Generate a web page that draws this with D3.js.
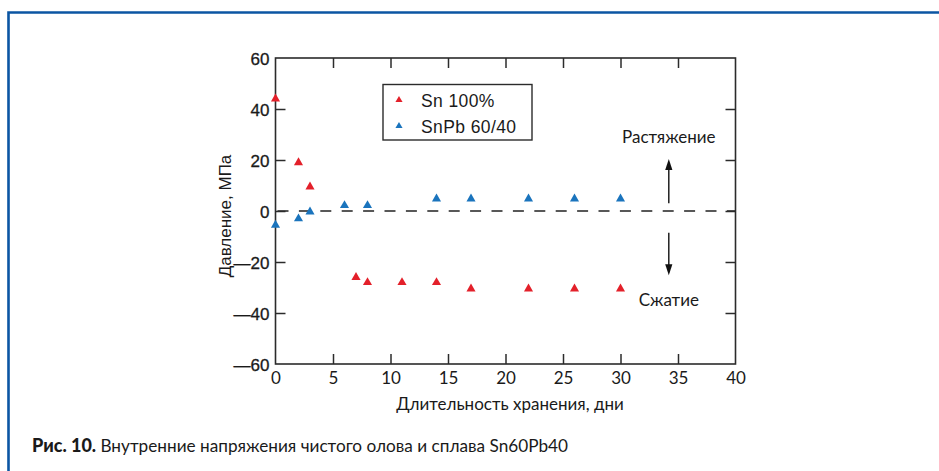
<!DOCTYPE html>
<html>
<head>
<meta charset="utf-8">
<script src="https://cdn.jsdelivr.net/npm/d3@7"></script>
<style>
  html, body { margin: 0; padding: 0; background: #fff; }
  svg { display: block; }
</style>
</head>
<body>
<svg id="chart" width="939" height="471"></svg>
<script>
// Storage time, days
const snDays = [0, 2, 3, 7, 8, 11, 14, 17, 22, 26, 30];
// Internal stress of pure tin, MPa
const snStress = [44, 19, 9.5, -26, -28, -28, -28, -30.5, -30.5, -30.5, -30.5];
const snpbDays = [0, 2, 3, 6, 8, 14, 17, 22, 26, 30];
// Internal stress of Sn60Pb40 alloy, MPa
const snpbStress = [-5.5, -3, -0.3, 2.2, 2.2, 4.8, 4.8, 4.8, 4.8, 4.8];
const xTicks = [0, 5, 10, 15, 20, 25, 30, 35, 40];
const yTicks = [-60, -40, -20, 0, 20, 40, 60];
const seriesNames = ["Sn 100%", "SnPb 60/40"];
const seriesColors = ["#e3202a", "#1a74bd"];

const svg = d3.select("#chart");
const plotL = 275.5, plotR = 735.5, plotT = 58, plotB = 364;
const x = d3.scaleLinear().domain([0, 40]).range([plotL, plotR]);
const y = d3.scaleLinear().domain([-60, 60]).range([plotB, plotT]);

const axisColor = "#2b2b2b";
const helv = "'Liberation Sans', Arial, sans-serif";
const geo = "Lato, 'Noto Sans', sans-serif";

// Page frame: top and left rules
svg.append("path")
  .attr("d", "M8.5,471 V12.5 H939")
  .attr("fill", "none").attr("stroke", "#0b55a3").attr("stroke-width", 2.6);

const fmt = d => d < 0 ? "\u2014" + Math.abs(d) : String(d);

// Zero line
svg.append("line")
  .attr("x1", x(0) + 2).attr("x2", x(40))
  .attr("y1", y(0)).attr("y2", y(0))
  .attr("stroke", "#222").attr("stroke-width", 1.3)
  .attr("stroke-dasharray", "11,10.4");

// Axes with inward ticks
const gL = svg.append("g").attr("transform", `translate(${plotL},0)`)
  .call(d3.axisLeft(y).tickValues(yTicks).tickSizeInner(-10).tickSizeOuter(0).tickPadding(6).tickFormat(fmt));
const gR = svg.append("g").attr("transform", `translate(${plotR},0)`)
  .call(d3.axisRight(y).tickValues(yTicks.slice(1, -1)).tickSizeInner(-10).tickSizeOuter(0).tickFormat(""));
const gB = svg.append("g").attr("transform", `translate(0,${plotB})`)
  .call(d3.axisBottom(x).tickValues(xTicks).tickSizeInner(-10).tickSizeOuter(0).tickPadding(8).tickFormat(d3.format("d")));
const gT = svg.append("g").attr("transform", `translate(0,${plotT})`)
  .call(d3.axisTop(x).tickValues(xTicks.slice(1, -1)).tickSizeInner(-10).tickSizeOuter(0).tickFormat(""));

[gL, gR, gB, gT].forEach(g => {
  g.select(".domain").remove();
  g.selectAll(".tick line").attr("stroke", axisColor).attr("stroke-width", 1.5);
});
gL.selectAll(".tick").filter(d => d === 60 || d === -60).select("line").remove();
gB.selectAll(".tick").filter(d => d === 0 || d === 40).select("line").remove();
gL.selectAll("text").attr("font-family", helv).attr("font-size", 17).attr("fill", "#1a1a1a")
  .attr("dy", "0.36em").attr("stroke", "#1a1a1a").attr("stroke-width", 0.3);
gB.selectAll("text").attr("font-family", geo).attr("font-size", 17).attr("fill", "#1a1a1a").attr("dy", "0.72em");

// Plot box
svg.append("rect")
  .attr("x", plotL).attr("y", plotT).attr("width", plotR - plotL).attr("height", plotB - plotT)
  .attr("fill", "none").attr("stroke", axisColor).attr("stroke-width", 1.6);

// Markers
const tri = d3.symbol().type(d3.symbolTriangle).size(36);
const series = [
  { days: snDays, vals: snStress, color: seriesColors[0] },
  { days: snpbDays, vals: snpbStress, color: seriesColors[1] }
];
series.forEach(s => {
  svg.append("g").selectAll("path")
    .data(s.days.map((d, i) => [d, s.vals[i]]))
    .join("path")
    .attr("d", tri)
    .attr("transform", d => `translate(${x(d[0])},${y(d[1])})`)
    .attr("fill", s.color);
});

// Legend
const lg = svg.append("g");
lg.append("rect").attr("x", 383).attr("y", 84.5).attr("width", 149).attr("height", 55.5)
  .attr("fill", "#fff").attr("stroke", axisColor).attr("stroke-width", 1.4);
seriesNames.forEach((name, i) => {
  const cy = 100 + i * 26;
  lg.append("path").attr("d", d3.symbol().type(d3.symbolTriangle).size(22))
    .attr("transform", `translate(399,${cy})`).attr("fill", seriesColors[i]);
  lg.append("text").attr("x", 421).attr("y", cy + 6.5)
    .attr("font-family", helv).attr("font-size", 17.5).attr("letter-spacing", 0.4)
    .attr("fill", "#1a1a1a").text(name);
});

// Tension / compression annotations
const ax = 34.2;
const arrowHead = (xp, yp, dir) => {
  const w = 3.6, h = 11;
  return `M${xp},${yp} L${xp - w},${yp - dir * h} L${xp + w},${yp - dir * h} Z`;
};
svg.append("line").attr("x1", x(ax)).attr("x2", x(ax)).attr("y1", y(3)).attr("y2", y(19))
  .attr("stroke", "#111").attr("stroke-width", 1.4);
svg.append("path").attr("d", arrowHead(x(ax), y(20.4), -1)).attr("fill", "#111");
svg.append("line").attr("x1", x(ax)).attr("x2", x(ax)).attr("y1", y(-8.5)).attr("y2", y(-24))
  .attr("stroke", "#111").attr("stroke-width", 1.4);
svg.append("path").attr("d", arrowHead(x(ax), y(-25.2), 1)).attr("fill", "#111");
svg.append("text").attr("x", x(ax)).attr("y", 143).attr("text-anchor", "middle")
  .attr("font-family", geo).attr("font-size", 17).attr("fill", "#1a1a1a").text("Растяжение");
svg.append("text").attr("x", x(ax)).attr("y", 305.5).attr("text-anchor", "middle")
  .attr("font-family", geo).attr("font-size", 17).attr("fill", "#1a1a1a").text("Сжатие");

// Axis titles
svg.append("text").attr("transform", "translate(231,216) rotate(-90)").attr("text-anchor", "middle")
  .attr("font-family", helv).attr("font-size", 17).attr("fill", "#1a1a1a").text("Давление, МПа");
svg.append("text").attr("x", 510).attr("y", 410).attr("text-anchor", "middle")
  .attr("font-family", geo).attr("font-size", 17).attr("fill", "#1a1a1a").text("Длительность хранения, дни");

// Caption
const cap = svg.append("text").attr("x", 32).attr("y", 451.5)
  .attr("font-family", geo).attr("font-size", 17.2).attr("fill", "#1a1a1a");
cap.append("tspan").attr("font-weight", 900).attr("font-size", 18).text("Рис. 10. ");
cap.append("tspan").text("Внутренние напряжения чистого олова и сплава Sn60Pb40");
</script>
</body>
</html>
